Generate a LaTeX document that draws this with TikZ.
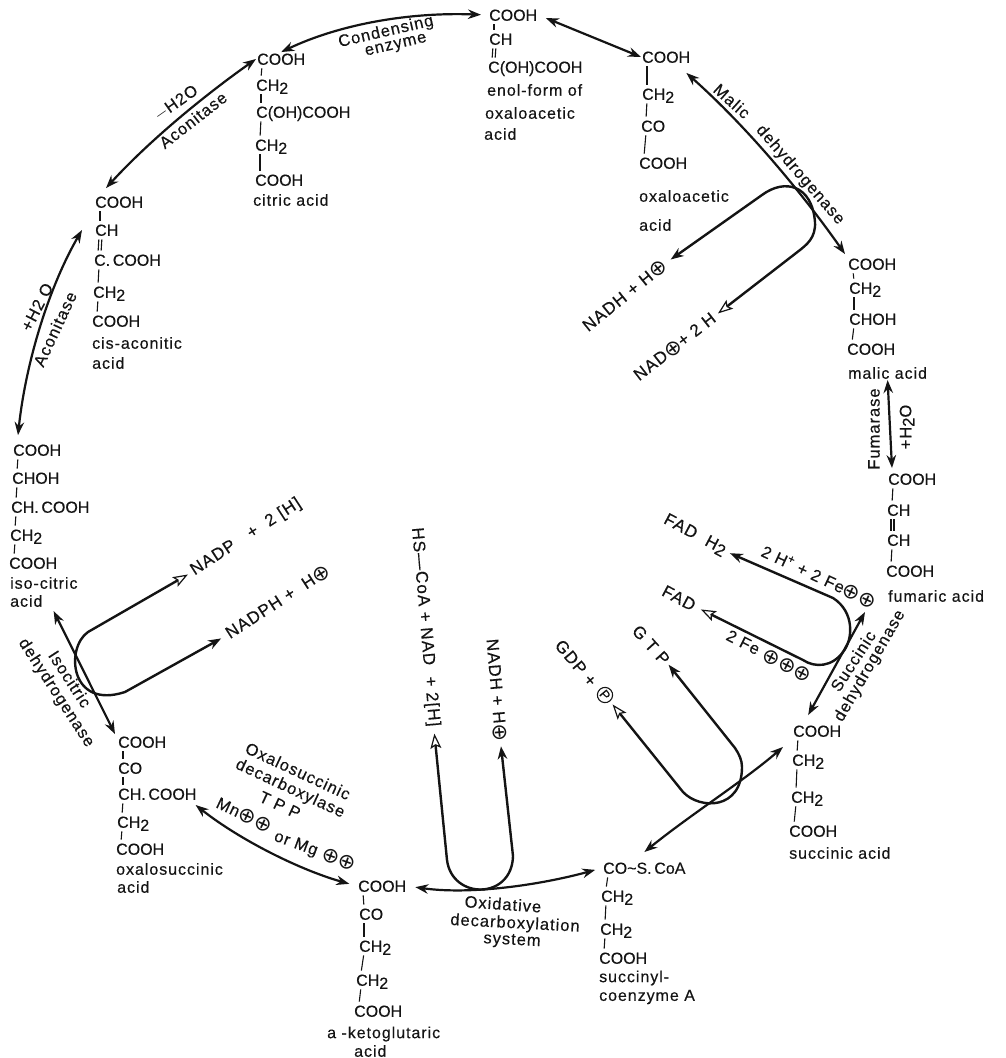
\documentclass[tikz,border=0pt]{standalone}
\usepackage{fontspec}
\setmainfont[FakeBold=0.35]{Liberation Sans}
\newfontfamily\namefont[LetterSpace=6,FakeBold=0.35]{Liberation Sans}
\newfontfamily\symfont{DejaVu Sans}
\usetikzlibrary{arrows.meta,calc}
\definecolor{ink}{HTML}{141414}
\newcommand{\chg}{{\symfont\fontsize{21}{15}\selectfont\raisebox{-1.5pt}{⊕}}}
\newcommand{\lowtwo}{\raisebox{-3pt}{2}}
\tikzset{
  tipfill/.tip={Stealth[length=13pt,width=9.5pt]},
  tipopen/.tip={Stealth[open,fill=white,inset=3pt,length=15pt,width=11pt,line width=1.2pt]},
  chem/.style={anchor=west, inner sep=1pt, text height=11.5pt, text depth=0pt, text=ink, font=\fontsize{16}{18}\selectfont},
  acidname/.style={anchor=west, inner sep=1pt, text=ink, font=\namefont\fontsize{16}{18}\selectfont},
  enzlabel/.style={inner sep=1pt, text=ink, font=\namefont\fontsize{16.5}{19}\selectfont},
  sidelabel/.style={inner sep=1pt, text=ink, font=\namefont\fontsize{17}{19}\selectfont},
  bond/.style={draw=ink, line width=1.1pt, shorten <=2.5pt, shorten >=2.5pt},
  cycarrow/.style={draw=ink, line width=2.2pt, tipfill-tipfill},
  looparrow/.style={draw=ink, line width=2.4pt, line join=round}
}
\begin{document}
\begin{tikzpicture}[x=1pt,y=-1pt]
\useasboundingbox (0,0) rectangle (1005,1058);
% enol form
\node[chem] (enolA) at (488,15) {COOH};
\node[chem] (enolB) at (488,39) {CH};
\node[chem] (enolC) at (487,67) {C(OH)COOH};
\node[acidname] (enolD) at (486,90) {enol-form of};
\node[acidname] (enolE) at (484,113) {oxaloacetic};
\node[acidname] (enolF) at (483,134) {acid};
% oxaloacetic acid
\node[chem] (oxaA) at (641,57) {COOH};
\node[chem] (oxaB) at (641,94) {CH\lowtwo};
\node[chem] (oxaC) at (640,126) {CO};
\node[chem] (oxaD) at (638,163) {COOH};
\node[acidname] (oxaE) at (638,196) {oxaloacetic};
\node[acidname] (oxaF) at (638,225) {acid};
% malic acid
\node[chem] (malA) at (847,264) {COOH};
\node[chem] (malB) at (848,288) {CH\lowtwo};
\node[chem] (malC) at (848,319) {CHOH};
\node[chem] (malD) at (846,349) {COOH};
\node[acidname] (malE) at (847,373) {malic acid};
% fumaric acid
\node[chem] (fumA) at (887,479) {COOH};
\node[chem] (fumB) at (886,510) {CH};
\node[chem] (fumC) at (886,540) {CH};
\node[chem] (fumD) at (885,571) {COOH};
\node[acidname] (fumE) at (887,596) {fumaric acid};
% succinic acid
\node[chem] (sucA) at (792,731) {COOH};
\node[chem] (sucB) at (791,760) {CH\lowtwo};
\node[chem] (sucC) at (790,797) {CH\lowtwo};
\node[chem] (sucD) at (788,831) {COOH};
\node[acidname] (sucE) at (788,853) {succinic acid};
% succinyl coenzyme A
\node[chem] (scoA) at (602,868) {CO\textasciitilde S.\,CoA};
\node[chem] (scoB) at (600,896) {CH\lowtwo};
\node[chem] (scoC) at (599,929) {CH\lowtwo};
\node[chem] (scoD) at (598,958) {COOH};
\node[acidname] (scoE) at (598,978) {succinyl-};
\node[acidname] (scoF) at (598,997) {coenzyme A};
% ketoglutaric acid
\node[chem] (ketA) at (357,886) {COOH};
\node[chem] (ketB) at (358,914) {CO};
\node[chem] (ketC) at (358,946) {CH\lowtwo};
\node[chem] (ketD) at (355,980) {CH\lowtwo};
\node[chem] (ketE) at (353,1011) {COOH};
\node[acidname] (ketF) at (326,1034) {a -ketoglutaric};
\node[acidname] (ketG) at (353,1051) {acid};
% oxalosuccinic acid
\node[chem] (osuA) at (117,742) {COOH};
\node[chem] (osuB) at (117,768) {CO};
\node[chem] (osuC) at (117,794) {CH.\,COOH};
\node[chem] (osuD) at (116,822) {CH\lowtwo};
\node[chem] (osuE) at (115,849) {COOH};
\node[acidname] (osuF) at (115,869) {oxalosuccinic};
\node[acidname] (osuG) at (116,887) {acid};
% isocitric acid
\node[chem] (isoA) at (12,450) {COOH};
\node[chem] (isoB) at (11,478) {CHOH};
\node[chem] (isoC) at (10,507) {CH.\,COOH};
\node[chem] (isoD) at (9,535) {CH\lowtwo};
\node[chem] (isoE) at (8,563) {COOH};
\node[acidname] (isoF) at (9,583) {iso-citric};
\node[acidname] (isoG) at (9,601) {acid};
% cis-aconitic acid
\node[chem] (cisA) at (94,202) {COOH};
\node[chem] (cisB) at (94,230) {CH};
\node[chem] (cisC) at (93,260) {C.\,COOH};
\node[chem] (cisD) at (92,292) {CH\lowtwo};
\node[chem] (cisE) at (91,321) {COOH};
\node[acidname] (cisF) at (91,343) {cis-aconitic};
\node[acidname] (cisG) at (91,363) {acid};
% citric acid
\node[chem] (citA) at (256,59) {COOH};
\node[chem] (citB) at (255,85) {CH\lowtwo};
\node[chem] (citC) at (255,112) {C(OH)COOH};
\node[chem] (citD) at (254,145) {CH\lowtwo};
\node[chem] (citE) at (254,180) {COOH};
\node[acidname] (citF) at (252,200) {citric acid};
% single bonds
\foreach \a/\b in {enolA/enolB,oxaA/oxaB,oxaB/oxaC,oxaC/oxaD,malA/malB,malB/malC,malC/malD,
  fumA/fumB,fumC/fumD,sucA/sucB,sucB/sucC,sucC/sucD,scoA/scoB,scoB/scoC,scoC/scoD,
  ketA/ketB,ketB/ketC,ketC/ketD,ketD/ketE,osuA/osuB,osuB/osuC,osuC/osuD,osuD/osuE,
  isoA/isoB,isoB/isoC,isoC/isoD,isoD/isoE,cisA/cisB,cisC/cisD,cisD/cisE,
  citA/citB,citB/citC,citC/citD,citD/citE}
  \draw[bond] ([xshift=6pt]\a.south west) -- ([xshift=6pt]\b.north west);
% double bonds
\foreach \a/\b in {enolB/enolC,fumB/fumC,cisB/cisC}{
  \draw[bond] ([xshift=5pt]\a.south west) -- ([xshift=5pt]\b.north west);
  \draw[bond] ([xshift=8pt]\a.south west) -- ([xshift=8pt]\b.north west);
}
% enzyme labels
\node[enzlabel,rotate=13] (condL) at (386,32) {Condensing};
\node[enzlabel,rotate=13] (condM) at (396,46) {enzyme};
\node[enzlabel,rotate=35] (dehL) at (176,103) {$-$H2O};
\node[enzlabel,rotate=38] (aco1L) at (193,120) {Aconitase};
\node[enzlabel,rotate=63] (hydL) at (37,307) {+H2 O};
\node[enzlabel,rotate=65] (aco2L) at (55,329) {Aconitase};
\node[enzlabel,rotate=-42] (malL) at (732,101) {Malic};
\node[enzlabel,rotate=-49] (malM) at (800,175) {dehydrogenase};
\node[enzlabel,rotate=90] (fuL) at (874,429) {Fumarase};
\node[enzlabel,rotate=90] (fuM) at (907,427) {+H\lowtwo O};
\node[enzlabel,rotate=57] (sdhL) at (853,661) {Succinic};
\node[enzlabel,rotate=60] (sdhM) at (870,666) {dehydrogenase};
\node[enzlabel,rotate=-4] (oxiL) at (503,904) {Oxidative};
\node[enzlabel,rotate=-3] (oxiM) at (515,924) {decarboxylation};
\node[enzlabel,rotate=-3] (oxiN) at (512,941) {system};
\node[enzlabel,rotate=-25] (osdL) at (298,771) {Oxalosuccinic};
\node[enzlabel,rotate=-25] (osdM) at (290,789) {decarboxylase};
\node[enzlabel,rotate=-25] (osdN) at (280,805) {T P P};
\node[enzlabel,rotate=-25] (osdO) at (244,815) {Mn\chg\chg};
\node[enzlabel,rotate=-20] (osdP) at (315,851) {or Mg \chg\chg};
\node[enzlabel,rotate=-57] (idhL) at (70,679) {Isocitric};
\node[enzlabel,rotate=-57] (idhM) at (56,693) {dehydrogenase};
\node[enzlabel,rotate=-25] (fe2L) at (819,577) {2 H\textsuperscript{+} + 2 Fe\chg\chg};
\node[enzlabel,rotate=-27] (fe3L) at (769,656) {2 Fe \chg\chg\chg};
% cofactor labels
\node[sidelabel,rotate=39] (nadhL) at (625,296) {NADH + H\chg};
\node[sidelabel,rotate=38] (nadL) at (675,347) {NAD\chg+ 2 H};
\node[sidelabel,rotate=-28] (fadhL) at (695,535) {FAD\ \ H\lowtwo};
\node[sidelabel,rotate=-28] (fadL) at (679,598) {FAD};
\node[sidelabel,rotate=-48] (gtpL) at (651,645) {G T P};
\node[sidelabel,rotate=-50] (gdpL) at (576,663) {GDP +};
\node[draw=ink,line width=1.1pt,circle,inner sep=1pt,text=ink,font=\fontsize{13}{13}\selectfont,rotate=-50] (phosL) at (605,695) {P};
\node[sidelabel,rotate=-85] (hscL) at (425,627) {HS—CoA + NAD\ \ + 2[H]};
\node[sidelabel,rotate=-85] (nadhM) at (496,690) {NADH + H\chg};
\node[sidelabel,rotate=33] (nadpL) at (246,537) {NADP\ \ \ + \ 2 [H]};
\node[sidelabel,rotate=33] (nadphL) at (278,602) {NADPH + \ H\chg};
% main cycle
\draw[cycarrow,shorten >=7pt] (citA.north) .. controls (340,24) and (410,12) .. (enolA.west);
\draw[cycarrow,shorten <=8pt] (enolA.east) -- (oxaA.west);
\draw[cycarrow] ([shift={(-5,9)}]oxaA.south east) .. controls (745,125) and (800,190) .. ([shift={(-2,-3)}]malA.north west);
\draw[cycarrow] (malE.south) -- ([shift={(5,-4)}]fumA.north west);
\draw[cycarrow] ([shift={(-9,-9)}]sucA.north) -- ([shift={(-22,16)}]fumE.west);
\draw[cycarrow] ([shift={(-9,9)}]sucA.south west) .. controls (745,780) and (690,815) .. ([shift={(0,-9)}]scoA.north);
\draw[cycarrow,shorten <=8pt,shorten >=7pt] (ketA.east) .. controls (470,895) and (540,885) .. (scoA.west);
\draw[cycarrow,shorten >=8pt] ([shift={(-2,11)}]osuC.east) .. controls (240,840) and (300,870) .. (ketA.west);
\draw[cycarrow] ([shift={(10,3)}]isoG.south east) -- ([shift={(-2,-1)}]osuA.north west);
\draw[cycarrow] ([shift={(6,-8)}]isoA.north west) .. controls (26,360) and (50,285) .. ([xshift=-12pt]cisB.west);
\draw[cycarrow] ([shift={(12,-7)}]cisA.north west) .. controls (150,140) and (205,95) .. (citA.west);
% side loops
\draw[looparrow,tipfill-tipopen,shorten <=6pt,shorten >=4pt] (nadhL.east) -- (762,195) .. controls (785,178) and (812,185) .. (815,222) .. controls (816,238) and (806,245) .. (800,250) -- (nadL.east);
\draw[looparrow,tipfill-tipopen,shorten <=4pt,shorten >=6pt] (fadhL.east) -- (833,598) .. controls (855,612) and (853,640) .. (843,652) .. controls (832,667) and (815,668) .. (803,660) -- (fadL.east);
\draw[looparrow,tipopen-tipfill,shorten <=4pt,shorten >=2pt] (phosL) -- (683,792) .. controls (700,810) and (742,810) .. (742,767) .. controls (742,760) and (739,754) .. (735,748) -- (gtpL.east);
\draw[looparrow,tipopen-tipfill,shorten <=6pt,shorten >=4pt] (hscL.east) -- (447,860) .. controls (452,900) and (512,900) .. (513,856) -- (nadhM.east);
\draw[looparrow,tipopen-tipfill,shorten <=4pt,shorten >=6pt] (nadpL.west) -- (88,632) .. controls (65,648) and (70,710) .. (125,692) -- (nadphL.west);
\end{tikzpicture}
\end{document}
